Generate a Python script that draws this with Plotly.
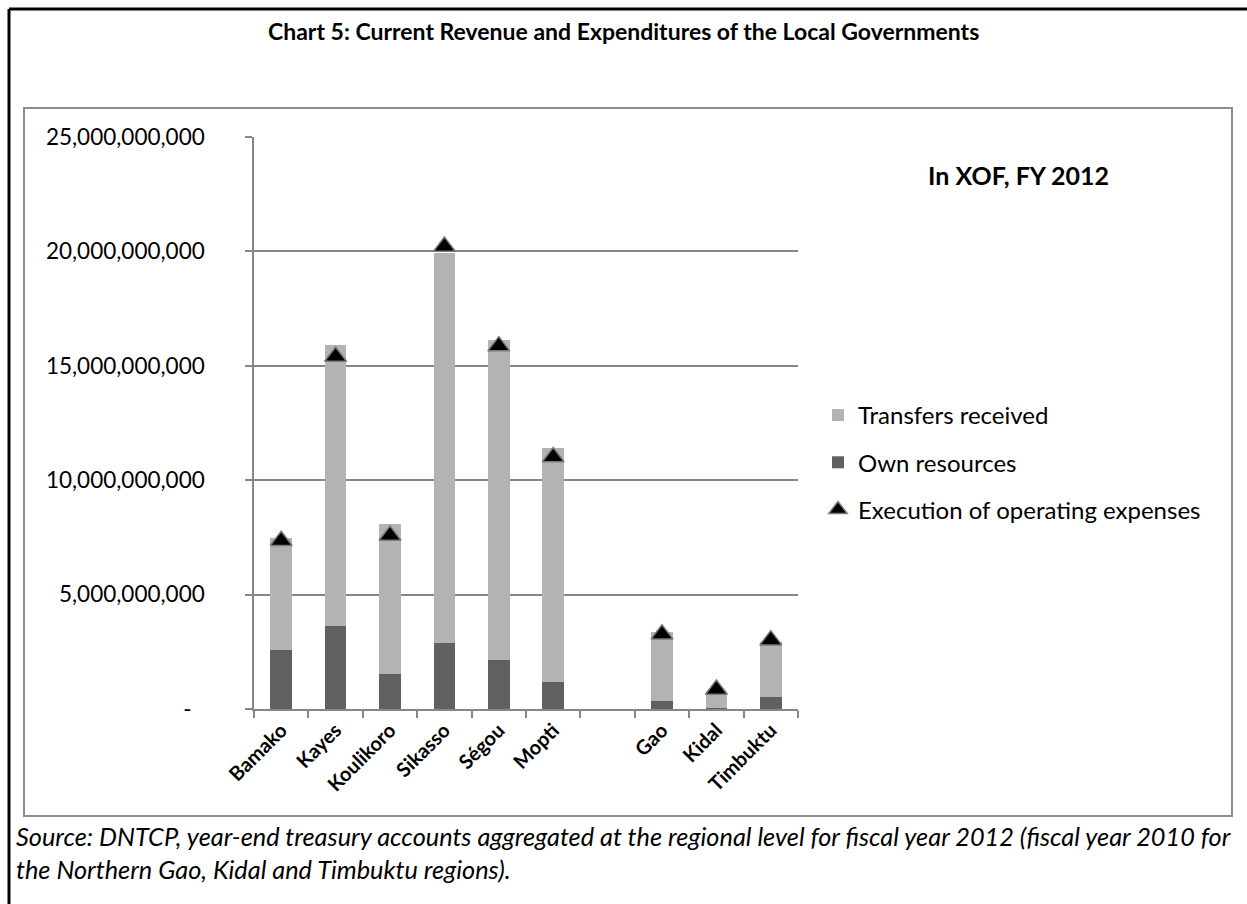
import plotly.graph_objects as go

W, H = 1247, 904

# Regions (a blank slot separates the southern regions from the northern ones)
categories = ["Bamako", "Kayes", "Koulikoro", "Sikasso", "Ségou", "Mopti",
              " ", "Gao", "Kidal", "Timbuktu"]
regions = ["Bamako", "Kayes", "Koulikoro", "Sikasso", "Ségou", "Mopti",
           "Gao", "Kidal", "Timbuktu"]

# XOF, FY 2012 (FY 2010 for Gao, Kidal, Timbuktu)
own_resources = [2.56e9, 3.61e9, 1.55e9, 2.88e9, 2.14e9, 1.17e9,
                 0.34e9, 0.05e9, 0.53e9]
transfers_received = [4.92e9, 12.31e9, 6.55e9, 17.03e9, 13.97e9, 10.22e9,
                      3.02e9, 0.55e9, 2.38e9]
operating_expenses = [7.35e9, 15.41e9, 7.58e9, 20.21e9, 15.86e9, 11.01e9,
                      3.27e9, 0.85e9, 3.01e9]

y_ticks = [0, 5e9, 10e9, 15e9, 20e9, 25e9]
y_tick_text = ["-\u2007"] + [f"{v:,.0f}" for v in y_ticks[1:]]

FONT = "Lato"
GRID = "#868686"

fig = go.Figure()
fig.add_trace(go.Bar(
    x=regions, y=own_resources, name="Own resources",
    legendgroup="own", legendrank=2,
    marker=dict(color="#606060", line=dict(width=0)),
))
fig.add_trace(go.Bar(
    x=regions, y=transfers_received, name="Transfers received",
    legendgroup="transfers", legendrank=1,
    marker=dict(color="#b3b3b3", line=dict(width=0)),
))
fig.add_trace(go.Scatter(
    x=regions, y=operating_expenses, name="Execution of operating expenses",
    mode="markers", legendgroup="expenses", legendrank=3,
    marker=dict(symbol="triangle-up", size=19, color="black",
                line=dict(color="#7a7a7a", width=1.5)),
))

x0, x1 = 254, 798
y_top, y_bot = 137, 709

fig.update_layout(
    template="none",
    width=W, height=H,
    margin=dict(l=0, r=0, t=0, b=0, pad=0, autoexpand=False),
    paper_bgcolor="white", plot_bgcolor="white",
    barmode="stack", bargap=0.6,
    font=dict(family=FONT, color="black"),
    xaxis=dict(
        domain=[x0 / W, x1 / W], automargin=False,
        type="category", categoryorder="array", categoryarray=categories,
        range=[-0.5, len(categories) - 0.5],
        tickson="boundaries", ticks="outside", ticklen=7, tickwidth=1.5,
        tickcolor=GRID, showline=True, linecolor=GRID, linewidth=1.5,
        showgrid=False, zeroline=False, tickangle=-45,
        tickfont=dict(family=FONT, size=20, color="black", weight="bold"),
    ),
    yaxis=dict(
        domain=[1 - y_bot / H, 1 - y_top / H], automargin=False,
        range=[0, 25e9], tickvals=y_ticks, ticktext=y_tick_text,
        ticks="outside", ticklen=7, tickwidth=1.5, tickcolor=GRID,
        showline=True, linecolor=GRID, linewidth=1.5,
        showgrid=True, gridcolor=GRID, gridwidth=1.5, zeroline=False,
        ticklabelstandoff=36,
        tickfont=dict(family=FONT, size=22.5, color="black"),
    ),
    legend=dict(
        x=818 / W, y=1 - 393 / H, xanchor="left", yanchor="top",
        traceorder="grouped", tracegroupgap=13,
        font=dict(family=FONT, size=24, color="black"),
        bgcolor="rgba(0,0,0,0)", borderwidth=0, itemwidth=30,
    ),
    showlegend=True,
)

# Outer black border (left and top edges fall inside the page)
fig.add_shape(type="line", xref="paper", yref="paper",
              x0=9 / W, x1=9 / W, y0=0, y1=1 - 9 / H,
              line=dict(color="black", width=3))
fig.add_shape(type="line", xref="paper", yref="paper",
              x0=9 / W, x1=1, y0=1 - 9 / H, y1=1 - 9 / H,
              line=dict(color="black", width=3))
# Grey chart-area box
fig.add_shape(type="rect", xref="paper", yref="paper",
              x0=24 / W, x1=1232 / W, y0=1 - 816 / H, y1=1 - 108 / H,
              line=dict(color="#8c8c8c", width=2))

fig.add_annotation(
    text="<b>Chart 5: Current Revenue and Expenditures of the Local Governments</b>",
    xref="paper", yref="paper", x=0.5, y=1 - 31 / H,
    xanchor="center", yanchor="middle", showarrow=False,
    font=dict(family=FONT, size=23, color="black"),
)
fig.add_annotation(
    text="<b>In XOF, FY 2012</b>",
    xref="paper", yref="paper", x=1018 / W, y=1 - 175 / H,
    xanchor="center", yanchor="middle", showarrow=False,
    font=dict(family=FONT, size=25, color="black"),
)
source_lines = [
    "Source: DNTCP, year-end treasury accounts aggregated at the regional level "
    "for fiscal year 2012 (fiscal year 2010 for",
    "the Northern Gao, Kidal and Timbuktu regions).",
]
for i, line in enumerate(source_lines):
    fig.add_annotation(
        text=f"<i>{line}</i>", xref="paper", yref="paper",
        x=14 / W, y=1 - (836 + 33 * i) / H,
        xanchor="left", yanchor="middle", showarrow=False,
        font=dict(family=FONT, size=25.3, color="black"),
    )

fig.write_html(
    "out.html",
    post_script="document.body.style.margin='0';"
                "document.body.style.overflow='hidden';",
)
